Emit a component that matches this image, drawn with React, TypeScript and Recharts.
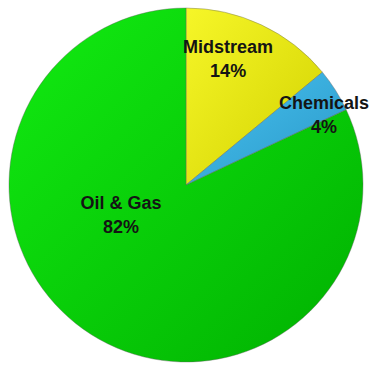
import { PieChart, Pie, Cell } from 'recharts';

const segments = ['Midstream', 'Chemicals', 'Oil & Gas'];
const shares = [14, 4, 82];

// fills per slice, light edge -> dark edge
const SLICE_FILLS = [
  ['#f6f628', '#d2d200'],
  ['#48c2f0', '#2a98c8'],
  ['#12ec12', '#00b000'],
];

// where each label sits: fraction of the radius and angle (deg, counter-clockwise from 3 o'clock)
const LABEL_SPOTS = [
  { r: 0.72, a: 70.7 },
  { r: 0.86, a: 25 },
  { r: 0.42, a: 209 },
];

const data = segments.map((name, i) => ({ name, value: shares[i] }));

const RAD = Math.PI / 180;

function SliceLabel({ cx, cy, outerRadius, index, name, value }: any) {
  const spot = LABEL_SPOTS[index];
  const x = cx + outerRadius * spot.r * Math.cos(spot.a * RAD);
  const y = cy - outerRadius * spot.r * Math.sin(spot.a * RAD);
  return (
    <text
      x={x}
      y={y}
      textAnchor="middle"
      fill="#141414"
      style={{ fontFamily: 'Liberation Sans, Arial, sans-serif', fontSize: 18, fontWeight: 700 }}
    >
      <tspan x={x} y={y - 12}>{name}</tspan>
      <tspan x={x} y={y + 12}>{value}%</tspan>
    </text>
  );
}

export default function App() {
  return (
    <div style={{ width: 373, height: 365, background: '#fff' }}>
      <style>{'body{margin:0}'}</style>
      <PieChart width={373} height={365} margin={{ top: 0, right: 0, bottom: 0, left: 0 }}>
        <defs>
          {SLICE_FILLS.map(([a, b], i) => (
            <linearGradient key={i} id={`slice${i}`} x1="0" y1="0" x2="1" y2="1">
              <stop offset="0%" stopColor={a} />
              <stop offset="100%" stopColor={b} />
            </linearGradient>
          ))}
        </defs>
        <Pie
          data={data}
          dataKey="value"
          nameKey="name"
          cx={186}
          cy={185}
          outerRadius={177}
          startAngle={90}
          endAngle={-270}
          stroke="#606060"
          strokeWidth={0.4}
          label={SliceLabel}
          labelLine={false}
          isAnimationActive={false}
        >
          {data.map((_, i) => (
            <Cell key={i} fill={`url(#slice${i})`} />
          ))}
        </Pie>
      </PieChart>
    </div>
  );
}
